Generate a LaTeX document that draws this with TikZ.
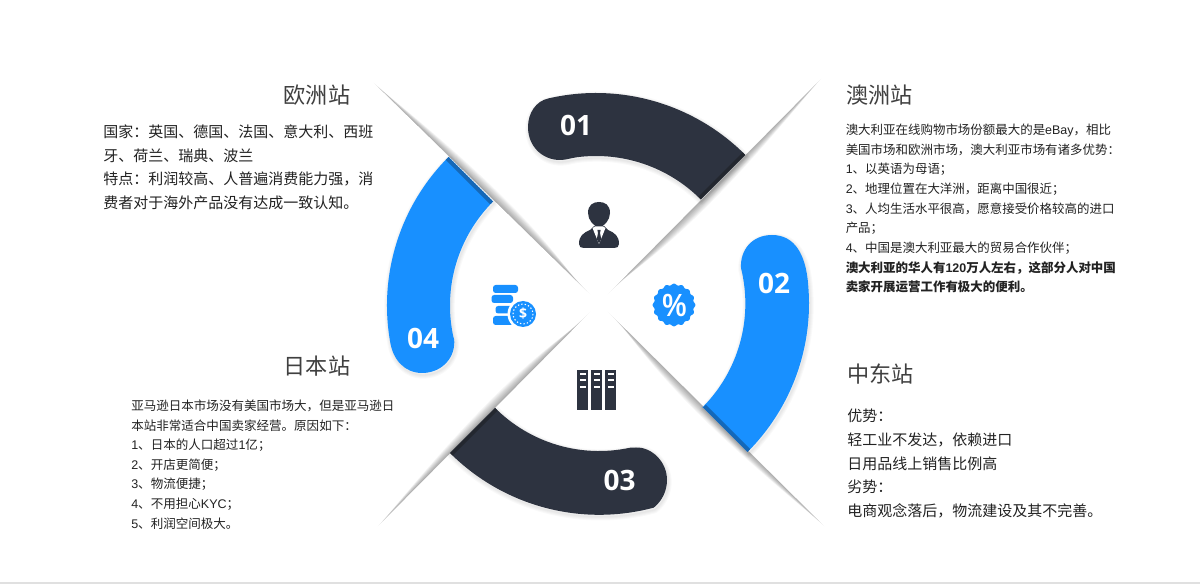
\documentclass[tikz,border=0pt]{standalone}
\usepackage{fontspec}
\usetikzlibrary{calc}
\setmainfont{Noto Sans CJK SC}
\newfontfamily\latf{Liberation Sans}
\newfontfamily\numf{Open Sans}
\definecolor{navy}{HTML}{2D3340}
\definecolor{navyd}{HTML}{23272F}
\definecolor{azure}{HTML}{1890FF}
\definecolor{azured}{HTML}{1568B8}
\definecolor{titlec}{HTML}{404040}
\definecolor{bodyc}{HTML}{222222}
\newcommand{\lat}[1]{{\latf #1}}
\newcommand{\fc}{^^^^ff0c}
\newcommand{\fk}{^^^^ff1a}
\newcommand{\fq}{^^^^ff1b}
\newcommand{\arcA}{(700.7,199.3) -- (745.2,154.8) arc[start angle=-45,end angle=-103,radius=211] .. controls (536,101) and (528,113) .. (528,127) .. controls (528,146) and (542,160) .. (560,160) .. controls (566,160) and (571,158) .. (577.2,157.2) arc[start angle=-97.3,end angle=-45,radius=148] -- cycle}
\newcommand{\arcB}{(703,407.5) -- (747.5,452) arc[start angle=45,end angle=-5,radius=210] .. controls (806,255) and (795,235) .. (772,235) .. controls (752,235) and (740,250) .. (741,268) arc[start angle=-14,end angle=45,radius=147] -- cycle}
\newcommand{\arcC}{(495,408) -- (450,453) arc[start angle=135,end angle=75,radius=211] .. controls (662,501) and (667,491) .. (667,480) .. controls (667,462) and (652,447) .. (636,447.5) .. controls (634,447.5) and (632,447.5) .. (629.6,447.8) arc[start angle=78,end angle=135,radius=147] -- cycle}
\newcommand{\arcD}{(493,201.5) -- (448.5,157) arc[start angle=225,end angle=170,radius=210] .. controls (393,360) and (405,373) .. (422,373) .. controls (440,373) and (454.3,360) .. (454.3,342) .. controls (454.3,340) and (453.8,338) .. (453.2,336.1) arc[start angle=168,end angle=225,radius=147] -- cycle}
\newcommand{\pinshadow}[4]{%
  \foreach \k in {1,...,10}{%
    \pgfmathsetmacro\ta{0.003*\k}%
    \pgfmathsetmacro\tb{0.97-0.008*\k}%
    \pgfmathsetmacro\off{1.15*\k}%
    \fill[black,opacity=.035] ($(#1,#2)!\ta!(599,303)$) .. controls ($(#1,#2)!0.42!(599,303)+(\off*#3,\off*#4)$) and ($(#1,#2)!0.68!(599,303)+(\off*#3,\off*#4)$) .. ($(#1,#2)!\tb!(599,303)$) -- cycle;
  }}
\newcommand{\arcshadow}[1]{%
  \foreach \w in {1,2.5,4,5.5}{\draw[black,opacity=.025,line width=\w pt,line join=round,shift={(1,2)}] #1;}}
\tikzset{
  x=0.75pt,y=-0.75pt,
  stationtitle/.style={inner sep=0pt,text=titlec,font=\fontsize{16.6pt}{20pt}\selectfont},
  bodylarge/.style={anchor=north west,inner sep=0pt,align=left,text=bodyc,font=\fontsize{11.25pt}{17.75pt}\selectfont},
  bodysmall/.style={anchor=north west,inner sep=0pt,align=left,text=bodyc,font=\fontsize{9.35pt}{14.75pt}\selectfont},
  numlabel/.style={inner sep=0pt,text=white,font=\numf\bfseries\fontsize{21pt}{24pt}\selectfont},
}
\begin{document}
\begin{tikzpicture}
\useasboundingbox (0,0) rectangle (1200,584);
\fill[white] (0,0) rectangle (1200,584);
\fill[black!12] (0,582) rectangle (1200,584);
% pinwheel shadows
\pinshadow{373}{82}{0.707}{-0.707}
\pinshadow{822}{78}{0.707}{0.707}
\pinshadow{825}{527}{-0.707}{0.707}
\pinshadow{377}{527}{-0.707}{-0.707}
% arc shadows
\arcshadow{\arcA}
\arcshadow{\arcB}
\arcshadow{\arcC}
\arcshadow{\arcD}
% arcs
\fill[navy] \arcA;
\fill[azure] \arcB;
\fill[navy] \arcC;
\fill[azure] \arcD;
\begin{scope}\clip \arcA; \fill[navyd] (700.7,199.3) -- (745.2,154.8) -- (742.7,152.3) -- (698.2,196.8) -- cycle; \end{scope}
\begin{scope}\clip \arcB; \fill[azured] (703,407.5) -- (747.5,452) -- (750.3,449.2) -- (705.8,404.7) -- cycle; \end{scope}
\begin{scope}\clip \arcC; \fill[navyd] (495,408) -- (450,453) -- (452.5,455.5) -- (497.5,410.5) -- cycle; \end{scope}
\begin{scope}\clip \arcD; \fill[azured] (493,201.5) -- (448.5,157) -- (445.7,159.8) -- (490.2,204.3) -- cycle; \end{scope}
% numbers
\node[numlabel] (n1) at (576,125) {01};
\node[numlabel] (n2) at (774,283) {02};
\node[numlabel] (n3) at (619.5,480) {03};
\node[numlabel] (n4) at (423,338) {04};
% person icon
\fill[navy] (588,213) .. controls (588,205) and (593,202) .. (599,202) .. controls (605,202) and (610,205) .. (610,213) .. controls (610,220) and (604,227) .. (599,227) .. controls (594,227) and (588,220) .. (588,213) -- cycle;
\fill[navy] (579,244) .. controls (579,236) and (583,233) .. (590,230) -- (594,226) -- (604,226) -- (608,230) .. controls (615,233) and (619,236) .. (619,244) .. controls (619,247) and (617,248) .. (614,248) -- (584,248) .. controls (581,248) and (579,247) .. (579,244) -- cycle;
\fill[white] (592.5,228) -- (595,226.5) -- (603,226.5) -- (605.5,228) -- (599,244) -- cycle;
\fill[navy] (597.4,230) -- (600.6,230) -- (600,233) -- (601.2,239) -- (599,243.5) -- (596.8,239) -- (598,233) -- cycle;
% percent badge
\fill[azure] plot[domain=0:360,samples=145,smooth] ({674+(20.6+0.8*cos(16*\x))*cos(\x)},{305+(20.6+0.8*cos(16*\x))*sin(\x)}) -- cycle;
\node[inner sep=0pt,text=white,xscale=0.85,font=\latf\bfseries\fontsize{24pt}{28pt}\selectfont] (pct) at (674.5,305) {\%};
% coins icon
\fill[azure,rounded corners=2pt] (493,285) rectangle (518,293);
\fill[azure,rounded corners=2pt] (491.5,295) rectangle (513,303);
\fill[azure,rounded corners=2pt] (495.5,306) rectangle (513,313.5);
\fill[azure,rounded corners=2pt] (493,316) rectangle (513,325);
\fill[white] (523,314) circle [radius=15.5];
\fill[azure] (523,314) circle [radius=13];
\draw[white,line width=0.8pt,dash pattern=on 1pt off 1.6pt] (523,314) circle [radius=10];
\node[inner sep=0pt,text=white,font=\numf\bfseries\fontsize{10.5pt}{12pt}\selectfont] (dollar) at (523,314) {\$};
% server icon
\fill[navy] (577,370) rectangle (588,410);
\fill[navy] (591,370) rectangle (602,410);
\fill[navy] (605,370) rectangle (616,410);
\foreach \cx in {577,591,605}{
  \foreach \cy in {373.5,379.5,386}{
    \fill[white] (\cx+2.5,\cy) rectangle (\cx+8.5,\cy+2);
  }}
% texts
\node[stationtitle,anchor=east] (t1) at (350.5,95) {欧洲站};
\node[stationtitle,anchor=west] (t2) at (846,95.5) {澳洲站};
\node[stationtitle,anchor=east] (t3) at (350.5,366) {日本站};
\node[stationtitle,anchor=west] (t4) at (847,374.5) {中东站};
\node[bodylarge] (b1) at (103,124.5) {国家\fk{}英国、德国、法国、意大利、西班\\牙、荷兰、瑞典、波兰\\特点\fk{}利润较高、人普遍消费能力强\fc{}消\\费者对于海外产品没有达成一致认知。};
\node[bodysmall] (b2) at (845.5,123.5) {澳大利亚在线购物市场份额最大的是\lat{eBay}\fc{}相比\\美国市场和欧洲市场\fc{}澳大利亚市场有诸多优势\fk{}\\\lat{1}、以英语为母语\fq{}\\\lat{2}、地理位置在大洋洲\fc{}距离中国很近\fq{}\\\lat{3}、人均生活水平很高\fc{}愿意接受价格较高的进口\\产品\fq{}\\\lat{4}、中国是澳大利亚最大的贸易合作伙伴\fq{}\\\textbf{澳大利亚的华人有\lat{120}万人左右\fc{}这部分人对中国}\\\textbf{卖家开展运营工作有极大的便利。}};
\node[bodysmall,font=\fontsize{9.4pt}{14.72pt}\selectfont] (b3) at (131,399.5) {亚马逊日本市场没有美国市场大\fc{}但是亚马逊日\\本站非常适合中国卖家经营。原因如下\fk{}\\\lat{1}、日本的人口超过\lat{1}亿\fq{}\\\lat{2}、开店更简便\fq{}\\\lat{3}、物流便捷\fq{}\\\lat{4}、不用担心\lat{KYC}\fq{}\\\lat{5}、利润空间极大。};
\node[bodylarge] (b4) at (847,409) {优势\fk{}\\轻工业不发达\fc{}依赖进口\\日用品线上销售比例高\\劣势\fk{}\\电商观念落后\fc{}物流建设及其不完善。};
\end{tikzpicture}
\end{document}
